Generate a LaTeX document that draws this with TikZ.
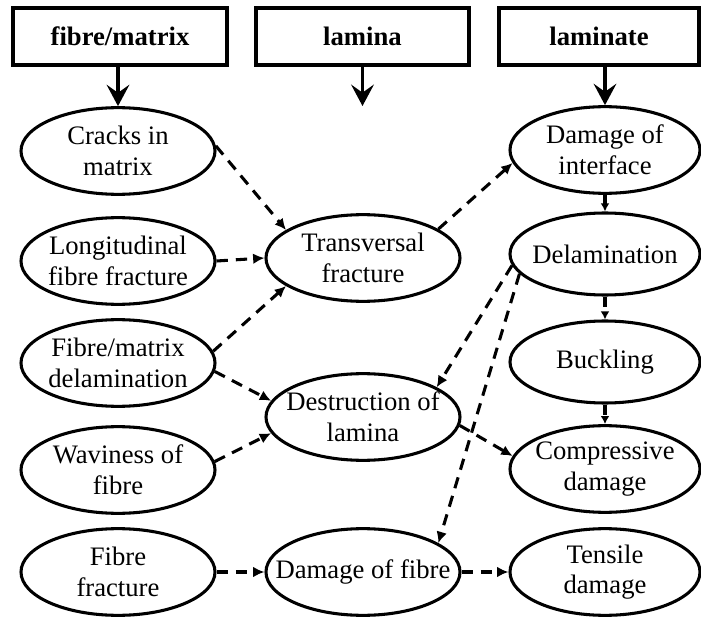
\documentclass[tikz,border=0pt]{standalone}
\usepackage{fontspec}
\setmainfont{Liberation Serif}
\usetikzlibrary{shapes.geometric,arrows.meta}
\begin{document}
\begin{tikzpicture}[x=0.75pt,y=-0.75pt,
  hdr/.style={draw,line width=2.3pt,minimum height=42.75pt,inner sep=0pt,font=\fontsize{20}{24}\selectfont\bfseries},
  ell/.style={ellipse,draw,line width=2.3pt,minimum width=145.5pt,minimum height=65pt,inner xsep=-40pt,inner ysep=-15pt,align=center,font=\fontsize{20}{23}\selectfont},
  ellr/.style={ell,minimum width=142.5pt},
  solidarrow/.style={line width=2.3pt,-{Stealth[length=16pt,width=17pt,inset=6pt]}},
  dcon/.style={line width=2.3pt,dash pattern=on 8.5pt off 6pt,-{Latex[length=8.5pt,width=8pt]}},
  shortcon/.style={line width=2.3pt,dash pattern=on 8pt off 6pt,-{Latex[length=6pt,width=6.5pt]}}
]
\useasboundingbox (0,0) rectangle (701,617);
\fill[white] (0,0) rectangle (701,617);

% header boxes
\node[hdr,minimum width=160.5pt] (box1) at (120,36.5) {fibre/matrix};
\node[hdr,minimum width=159.75pt] (box2) at (362.5,36.5) {lamina};
\node[hdr,minimum width=150pt] (box3) at (599,36.5) {laminate};

% column 1
\node[ell] (cracks) at (118,151) {Cracks in\\matrix};
\node[ell] (longi) at (118,261) {Longitudinal\\fibre fracture};
\node[ell] (fm) at (118,363) {Fibre/matrix\\delamination};
\node[ell] (wavi) at (118,470) {Waviness of\\fibre};
\node[ell] (ff) at (118,572) {Fibre\\fracture};

% column 2
\node[ell] (trans) at (363,258) {Transversal\\fracture};
\node[ell] (destr) at (363,417) {Destruction of\\lamina};
\node[ell] (dfib) at (363,572) {Damage of fibre};

% column 3
\node[ellr] (inter) at (605,150) {Damage of\\interface};
\node[ellr,minimum height=61.5pt] (delam) at (605,254) {Delamination};
\node[ellr,minimum height=61.5pt] (buck) at (605,362) {Buckling};
\node[ellr] (comp) at (605,469) {Compressive\\damage};
\node[ellr] (tens) at (605,572) {Tensile\\damage};

% top arrows
\coordinate (lamend) at (362.5,106);
\draw[solidarrow] (cracks.north |- box1.south) -- (cracks.north);
\draw[solidarrow] (box2.south) -- (lamend);
\draw[solidarrow] (inter.north |- box3.south) -- (inter.north);

% dashed connectors
\draw[dcon] (cracks.3) -- (trans.160);
\draw[dcon] (longi.east) -- (trans.west);
\draw[dcon] (fm.7) -- (trans.200);
\draw[dcon] (fm.-5) -- (destr.170);
\draw[dcon] (wavi.5) -- (destr.190);
\draw[dcon] (ff.east) -- (dfib.west);
\draw[dcon] (trans.21) -- (inter.188);
\draw[shortcon] (inter.south) -- (delam.north);
\draw[shortcon] (delam.south) -- (buck.north);
\draw[shortcon] (buck.south) -- (comp.north);
\draw[dcon] (delam.187) -- (destr.22);
\draw[dcon] (delam.193) -- (dfib.21);
\draw[dcon] (destr.-5) -- (comp.172);
\draw[dcon] (dfib.east) -- (tens.west);
\end{tikzpicture}
\end{document}
